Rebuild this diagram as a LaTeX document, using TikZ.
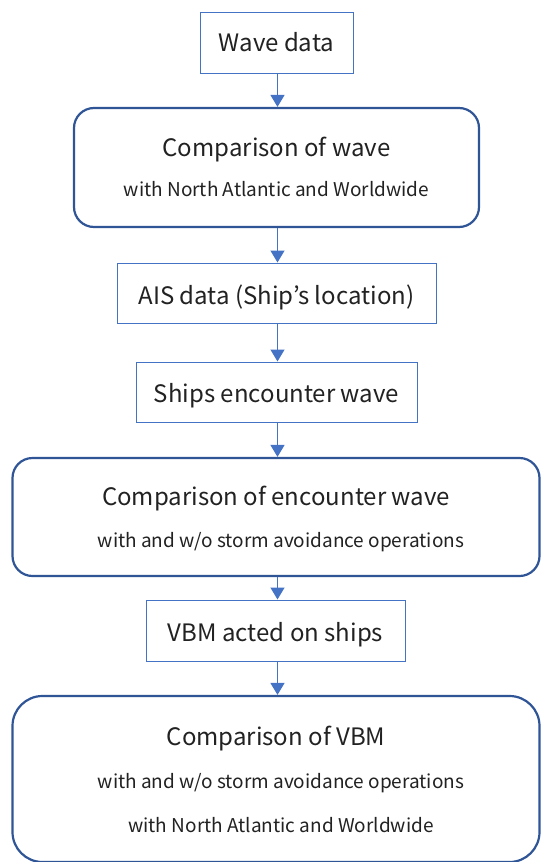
\documentclass[tikz,border=0pt]{standalone}
\usepackage{fontspec}
\setmainfont{Noto Sans CJK JP}
\usetikzlibrary{arrows.meta}
\definecolor{lightblue}{HTML}{4472C4}
\definecolor{darkblue}{HTML}{2F5597}
\definecolor{txt}{HTML}{222222}
\tikzset{
  plainbox/.style={draw=lightblue, line width=1pt, fill=white, inner sep=0pt},
  roundbox/.style={draw=darkblue, line width=2.2pt, rounded corners=20pt, fill=white, inner sep=0pt},
  bigtxt/.style={text=txt, font=\fontsize{24}{28}\selectfont, inner sep=0pt, anchor=base},
  smalltxt/.style={text=txt, font=\fontsize{19}{23}\selectfont, inner sep=0pt, anchor=base},
  flow/.style={draw=lightblue, line width=1.5pt, -{Triangle[width=14pt,length=12pt]}}
}
\begin{document}
\begin{tikzpicture}[x=1pt,y=-1pt]
\useasboundingbox (0,0) rectangle (541,862);
% boxes
\node[plainbox, minimum width=153pt, minimum height=61pt] (b1) at (276.5,42.5) {};
\node[roundbox, minimum width=405pt, minimum height=119pt] (b2) at (276.5,167.5) {};
\node[plainbox, minimum width=319pt, minimum height=60pt] (b3) at (276.5,293) {};
\node[plainbox, minimum width=281pt, minimum height=60pt] (b4) at (276.5,392) {};
\node[roundbox, minimum width=527pt, minimum height=118pt] (b5) at (276,517) {};
\node[plainbox, minimum width=259pt, minimum height=61pt] (b6) at (275.5,630.5) {};
\node[roundbox, rounded corners=30pt, minimum width=527pt, minimum height=166pt] (b7) at (276,779) {};
% texts
\node[bigtxt] (t1) at (276.5,51.5) {Wave data};
\node[bigtxt] (t2a) at (276.5,156) {Comparison of wave};
\node[smalltxt] (t2b) at (276.5,196) {with North Atlantic and Worldwide};
\node[bigtxt] (t3) at (276.5,304) {AIS data (Ship’s location)};
\node[bigtxt] (t4) at (276.5,402) {Ships encounter wave};
\node[bigtxt] (t5a) at (276,505.5) {Comparison of encounter wave};
\node[smalltxt] (t5b) at (281,547) {with and w/o storm avoidance operations};
\node[bigtxt] (t6) at (275.5,641) {VBM acted on ships};
\node[bigtxt] (t7a) at (276,745.5) {Comparison of VBM};
\node[smalltxt] (t7b) at (281,788.5) {with and w/o storm avoidance operations};
\node[smalltxt] (t7c) at (281,832) {with North Atlantic and Worldwide};
% arrows
\draw[flow] (b1.south -| 277.5,0) -- (b2.north -| 277.5,0);
\draw[flow] (b2.south -| 277.5,0) -- (b3.north -| 277.5,0);
\draw[flow] (b3.south -| 277.5,0) -- (b4.north -| 277.5,0);
\draw[flow] (b4.south -| 277.5,0) -- (b5.north -| 277.5,0);
\draw[flow] (b5.south -| 277.5,0) -- (b6.north -| 277.5,0);
\draw[flow] (b6.south -| 277.5,0) -- (b7.north -| 277.5,0);
\end{tikzpicture}
\end{document}
